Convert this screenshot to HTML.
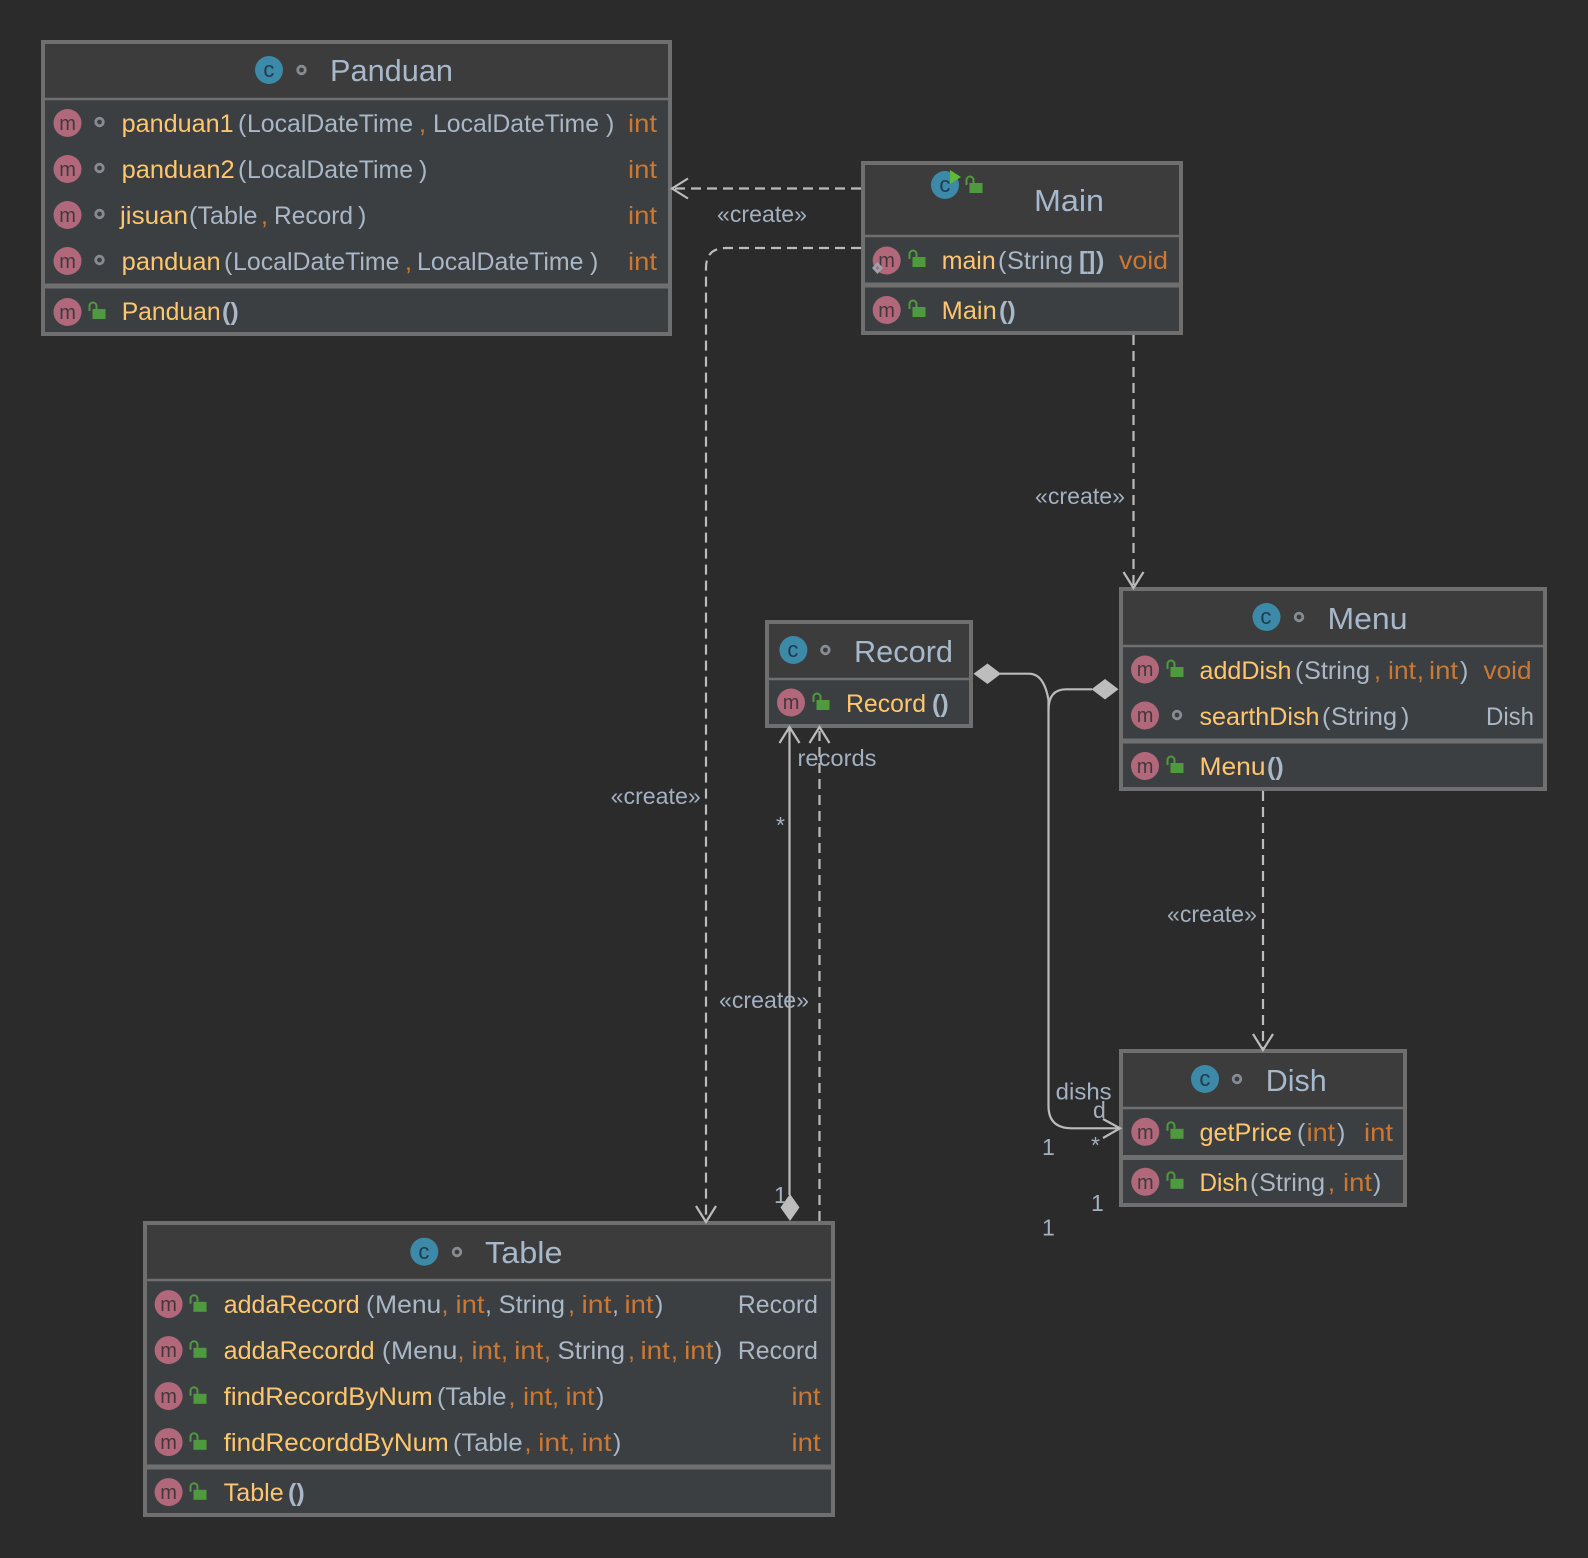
<!DOCTYPE html>
<html><head><meta charset="utf-8"><title>Class diagram</title>
<style>
html,body{margin:0;padding:0;background:#2b2b2b}
svg{display:block}
text{font-family:"Liberation Sans","DejaVu Sans",sans-serif;font-size:25px;white-space:pre}
.y{fill:#ffc66d}.g{fill:#a9b7c6}.o{fill:#cc7832}
.b{font-weight:bold}
.h{font-size:31px;fill:#a6b8cc}
.l{font-size:23px;fill:#a3b0c0}
.m{font-size:20px;fill:#45383c;transform:translateX(-0.8px)}
.c{font-size:22px;fill:#1f3b4d;transform:translateX(-0.6px)}
.box{stroke:#6f6f6f;stroke-width:4}
.head{fill:#3c3c3c}.body{fill:#3c3f41}
.sep{stroke:#6f6f6f;stroke-width:2.5}
.sep2{stroke:#6f6f6f;stroke-width:5}
.line{fill:none;stroke:#bbbbbb;stroke-width:2.2}
.dash{stroke-dasharray:10 6}
.dia{fill:#bdbdbd}
</style></head><body>
<svg width="1588" height="1558" viewBox="0 0 1588 1558" xmlns="http://www.w3.org/2000/svg">
<defs>
<g id="lock"><rect x="-4.500" y="-3" width="13" height="10" fill="#4f9a3f"/><path d="M-7.500,-1V-6a3.500,3.500 0 0 1 7,0V-3" fill="none" stroke="#4f9a3f" stroke-width="2"/></g>
<g id="dot"><circle r="3.800" fill="none" stroke="#868c91" stroke-width="2.800"/></g>
</defs>
<rect width="1588" height="1558" fill="#2b2b2b"/>

<!-- Panduan -->
<rect class="box body" x="43" y="42" width="627" height="292"/>
<rect class="head" x="45" y="44" width="623" height="54"/>
<line class="sep" x1="43" y1="99" x2="670" y2="99"/>
<line class="sep2" x1="43" y1="286" x2="670" y2="286"/>
<circle cx="269" cy="70" r="14" fill="#3d8aa8"/><text class="c" x="264" y="77">c</text>
<use href="#dot" x="301.500" y="70"/>
<text class="h" x="330" y="81" textLength="123" lengthAdjust="spacingAndGlyphs">Panduan</text>
<circle cx="67.500" cy="123" r="14" fill="#b0687a"/><text class="m" x="60" y="130">m</text><use href="#dot" x="99.500" y="122"/>
<text class="y" x="121.700" y="132" textLength="112" lengthAdjust="spacingAndGlyphs">panduan1</text><text class="g" x="238" y="132">(</text><text class="g" x="247" y="132" textLength="166" lengthAdjust="spacingAndGlyphs">LocalDateTime</text><text class="o" x="419" y="132">,</text><text class="g" x="433" y="132" textLength="166" lengthAdjust="spacingAndGlyphs">LocalDateTime</text><text class="g" x="606" y="132">)</text><text class="o" x="628" y="132" textLength="29" lengthAdjust="spacingAndGlyphs">int</text>
<circle cx="67.500" cy="169" r="14" fill="#b0687a"/><text class="m" x="60" y="176">m</text><use href="#dot" x="99.500" y="168"/>
<text class="y" x="121.700" y="178" textLength="113" lengthAdjust="spacingAndGlyphs">panduan2</text><text class="g" x="238" y="178">(</text><text class="g" x="247" y="178" textLength="166" lengthAdjust="spacingAndGlyphs">LocalDateTime</text><text class="g" x="419" y="178">)</text><text class="o" x="628" y="178" textLength="29" lengthAdjust="spacingAndGlyphs">int</text>
<circle cx="67.500" cy="215" r="14" fill="#b0687a"/><text class="m" x="60" y="222">m</text><use href="#dot" x="99.500" y="214"/>
<text class="y" x="120" y="224" textLength="68" lengthAdjust="spacingAndGlyphs">jisuan</text><text class="g" x="189" y="224">(</text><text class="g" x="197.500" y="224" textLength="60" lengthAdjust="spacingAndGlyphs">Table</text><text class="o" x="261" y="224">,</text><text class="g" x="274" y="224" textLength="79" lengthAdjust="spacingAndGlyphs">Record</text><text class="g" x="358" y="224">)</text><text class="o" x="628" y="224" textLength="29" lengthAdjust="spacingAndGlyphs">int</text>
<circle cx="67.500" cy="261" r="14" fill="#b0687a"/><text class="m" x="60" y="268">m</text><use href="#dot" x="99.500" y="260"/>
<text class="y" x="121.700" y="270" textLength="99" lengthAdjust="spacingAndGlyphs">panduan</text><text class="g" x="224" y="270">(</text><text class="g" x="233" y="270" textLength="166.500" lengthAdjust="spacingAndGlyphs">LocalDateTime</text><text class="o" x="405" y="270">,</text><text class="g" x="417" y="270" textLength="166.500" lengthAdjust="spacingAndGlyphs">LocalDateTime</text><text class="g" x="590" y="270">)</text><text class="o" x="628" y="270" textLength="29" lengthAdjust="spacingAndGlyphs">int</text>
<circle cx="67.500" cy="312" r="14" fill="#b0687a"/><text class="m" x="60" y="319">m</text><use href="#lock" x="97" y="312"/>
<text class="y" x="121.700" y="320" textLength="99" lengthAdjust="spacingAndGlyphs">Panduan</text><text class="g b" x="222" y="320">()</text>

<!-- Main -->
<rect class="box body" x="863" y="163" width="318" height="170"/>
<rect class="head" x="865" y="165" width="314" height="70"/>
<line class="sep" x1="863" y1="236" x2="1181" y2="236"/>
<line class="sep2" x1="863" y1="285" x2="1181" y2="285"/>
<circle cx="945" cy="185" r="14" fill="#3d8aa8"/><text class="c" x="940" y="192">c</text>
<polygon points="950,170 961,177 950,184" fill="#5fb83a"/>
<use href="#lock" x="974" y="186"/>
<text class="h" x="1034" y="211" textLength="70" lengthAdjust="spacingAndGlyphs">Main</text>
<circle cx="886.700" cy="260.500" r="14" fill="#b0687a"/><text class="m" x="879" y="267">m</text>
<polygon points="877.500,262 883,268 877.500,274 872,268" fill="#9aa4ae"/><polygon points="877.500,266 879.500,268 877.500,270 875.500,268" fill="#b0687a"/>
<use href="#lock" x="917" y="260"/>
<text class="y" x="941.700" y="269" textLength="54" lengthAdjust="spacingAndGlyphs">main</text><text class="g" x="998" y="269">(</text><text class="g" x="1007" y="269" textLength="66" lengthAdjust="spacingAndGlyphs">String</text><text class="g b" x="1079" y="269">[</text><text class="g b" x="1087" y="269">]</text><text class="g b" x="1096" y="269">)</text><text class="o" x="1119" y="269" textLength="49" lengthAdjust="spacingAndGlyphs">void</text>
<circle cx="886.700" cy="310" r="14" fill="#b0687a"/><text class="m" x="879" y="317">m</text><use href="#lock" x="917" y="310"/>
<text class="y" x="941.700" y="319" textLength="55" lengthAdjust="spacingAndGlyphs">Main</text><text class="g b" x="999" y="319">()</text>

<!-- Record -->
<rect class="box body" x="767" y="622" width="204" height="104"/>
<rect class="head" x="769" y="624" width="200" height="53"/>
<line class="sep" x1="767" y1="679" x2="971" y2="679"/>
<circle cx="793.400" cy="650" r="14" fill="#3d8aa8"/><text class="c" x="788" y="657">c</text>
<use href="#dot" x="825.400" y="650"/>
<text class="h" x="854" y="662" textLength="99" lengthAdjust="spacingAndGlyphs">Record</text>
<circle cx="791" cy="702.500" r="14" fill="#b0687a"/><text class="m" x="783.500" y="709">m</text><use href="#lock" x="821" y="703"/>
<text class="y" x="846" y="712" textLength="80" lengthAdjust="spacingAndGlyphs">Record</text><text class="g b" x="932" y="712">()</text>

<!-- Menu -->
<rect class="box body" x="1121" y="589" width="424" height="200"/>
<rect class="head" x="1123" y="591" width="420" height="54"/>
<line class="sep" x1="1121" y1="646" x2="1545" y2="646"/>
<line class="sep2" x1="1121" y1="741" x2="1545" y2="741"/>
<circle cx="1266.500" cy="617" r="14" fill="#3d8aa8"/><text class="c" x="1261" y="624">c</text>
<use href="#dot" x="1299" y="617"/>
<text class="h" x="1327.500" y="629" textLength="80" lengthAdjust="spacingAndGlyphs">Menu</text>
<circle cx="1145" cy="669.500" r="14" fill="#b0687a"/><text class="m" x="1137.500" y="676">m</text><use href="#lock" x="1175" y="670"/>
<text class="y" x="1199.500" y="679" textLength="92" lengthAdjust="spacingAndGlyphs">addDish</text><text class="g" x="1295" y="679">(</text><text class="g" x="1304" y="679" textLength="66" lengthAdjust="spacingAndGlyphs">String</text><text class="o" x="1374" y="679">,</text><text class="o" x="1388" y="679" textLength="28" lengthAdjust="spacingAndGlyphs">int</text><text class="o" x="1417" y="679">,</text><text class="o" x="1429" y="679" textLength="29" lengthAdjust="spacingAndGlyphs">int</text><text class="g" x="1460" y="679">)</text><text class="o" x="1483.500" y="679" textLength="48" lengthAdjust="spacingAndGlyphs">void</text>
<circle cx="1145" cy="715.500" r="14" fill="#b0687a"/><text class="m" x="1137.500" y="722">m</text><use href="#dot" x="1177" y="715"/>
<text class="y" x="1199.500" y="725" textLength="120" lengthAdjust="spacingAndGlyphs">searthDish</text><text class="g" x="1322" y="725">(</text><text class="g" x="1331" y="725" textLength="66" lengthAdjust="spacingAndGlyphs">String</text><text class="g" x="1401" y="725">)</text><text class="g" x="1486" y="725" textLength="48" lengthAdjust="spacingAndGlyphs">Dish</text>
<circle cx="1145" cy="766" r="14" fill="#b0687a"/><text class="m" x="1137.500" y="773">m</text><use href="#lock" x="1175" y="766"/>
<text class="y" x="1199.500" y="775" textLength="66" lengthAdjust="spacingAndGlyphs">Menu</text><text class="g b" x="1267" y="775">()</text>

<!-- Dish -->
<rect class="box body" x="1121" y="1051" width="284" height="154"/>
<rect class="head" x="1123" y="1053" width="280" height="53"/>
<line class="sep" x1="1121" y1="1108" x2="1405" y2="1108"/>
<line class="sep2" x1="1121" y1="1157.500" x2="1405" y2="1157.500"/>
<circle cx="1205" cy="1079" r="14" fill="#3d8aa8"/><text class="c" x="1200" y="1086">c</text>
<use href="#dot" x="1237" y="1079"/>
<text class="h" x="1265.700" y="1091" textLength="61" lengthAdjust="spacingAndGlyphs">Dish</text>
<g transform="translate(0,0.800)">
<circle cx="1145.300" cy="1131" r="14" fill="#b0687a"/><text class="m" x="1137.800" y="1138">m</text><use href="#lock" x="1175" y="1131"/>
<text class="y" x="1199.500" y="1140" textLength="92.500" lengthAdjust="spacingAndGlyphs">getPrice</text><text class="g" x="1297" y="1140">(</text><text class="o" x="1306.700" y="1140" textLength="28.500" lengthAdjust="spacingAndGlyphs">int</text><text class="g" x="1337" y="1140">)</text><text class="o" x="1364" y="1140" textLength="29" lengthAdjust="spacingAndGlyphs">int</text>
<circle cx="1145.300" cy="1181" r="14" fill="#b0687a"/><text class="m" x="1137.800" y="1188">m</text><use href="#lock" x="1175" y="1181"/>
<text class="y" x="1199.500" y="1190" textLength="48.500" lengthAdjust="spacingAndGlyphs">Dish</text><text class="g" x="1250" y="1190">(</text><text class="g" x="1259" y="1190" textLength="66" lengthAdjust="spacingAndGlyphs">String</text><text class="o" x="1328" y="1190">,</text><text class="o" x="1343" y="1190" textLength="29" lengthAdjust="spacingAndGlyphs">int</text><text class="g" x="1373" y="1190">)</text>
</g>

<!-- Table -->
<rect class="box body" x="145" y="1223" width="688" height="292"/>
<rect class="head" x="147" y="1225" width="684" height="54"/>
<line class="sep" x1="145" y1="1280" x2="833" y2="1280"/>
<line class="sep2" x1="145" y1="1467" x2="833" y2="1467"/>
<circle cx="424.300" cy="1251.700" r="14" fill="#3d8aa8"/><text class="c" x="419" y="1259">c</text>
<use href="#dot" x="457" y="1252"/>
<text class="h" x="485" y="1263" textLength="77.500" lengthAdjust="spacingAndGlyphs">Table</text>
<g transform="translate(0,0.800)">
<circle cx="168.600" cy="1303.300" r="14" fill="#b0687a"/><text class="m" x="161" y="1310">m</text><use href="#lock" x="198" y="1304"/>
<text class="y" x="223.700" y="1312" textLength="136" lengthAdjust="spacingAndGlyphs">addaRecord</text><text class="g" x="366" y="1312">(</text><text class="g" x="375" y="1312" textLength="66.300" lengthAdjust="spacingAndGlyphs">Menu</text><text class="o" x="441.500" y="1312">,</text><text class="o" x="455.500" y="1312" textLength="29" lengthAdjust="spacingAndGlyphs">int</text><text class="g" x="485" y="1312">,</text><text class="g" x="498.700" y="1312" textLength="66.300" lengthAdjust="spacingAndGlyphs">String</text><text class="o" x="568" y="1312">,</text><text class="o" x="581.500" y="1312" textLength="30" lengthAdjust="spacingAndGlyphs">int</text><text class="g" x="612" y="1312">,</text><text class="o" x="624.500" y="1312" textLength="29" lengthAdjust="spacingAndGlyphs">int</text><text class="g" x="655" y="1312">)</text><text class="g" x="737.900" y="1312" textLength="80" lengthAdjust="spacingAndGlyphs">Record</text>
<circle cx="168.600" cy="1349.300" r="14" fill="#b0687a"/><text class="m" x="161" y="1356">m</text><use href="#lock" x="198" y="1350"/>
<text class="y" x="223.700" y="1358" textLength="151" lengthAdjust="spacingAndGlyphs">addaRecordd</text><text class="g" x="382" y="1358">(</text><text class="g" x="391" y="1358" textLength="66.400" lengthAdjust="spacingAndGlyphs">Menu</text><text class="o" x="457.500" y="1358">,</text><text class="o" x="471.500" y="1358" textLength="29" lengthAdjust="spacingAndGlyphs">int</text><text class="o" x="501" y="1358">,</text><text class="o" x="514.300" y="1358" textLength="29" lengthAdjust="spacingAndGlyphs">int</text><text class="o" x="544" y="1358">,</text><text class="g" x="557.500" y="1358" textLength="67.500" lengthAdjust="spacingAndGlyphs">String</text><text class="o" x="628" y="1358">,</text><text class="o" x="640.500" y="1358" textLength="29.400" lengthAdjust="spacingAndGlyphs">int</text><text class="o" x="671" y="1358">,</text><text class="o" x="684.100" y="1358" textLength="29.400" lengthAdjust="spacingAndGlyphs">int</text><text class="g" x="714" y="1358">)</text><text class="g" x="737.900" y="1358" textLength="80" lengthAdjust="spacingAndGlyphs">Record</text>
<circle cx="168.600" cy="1395.300" r="14" fill="#b0687a"/><text class="m" x="161" y="1402">m</text><use href="#lock" x="198" y="1396"/>
<text class="y" x="223.700" y="1404" textLength="209" lengthAdjust="spacingAndGlyphs">findRecordByNum</text><text class="g" x="437" y="1404">(</text><text class="g" x="445.300" y="1404" textLength="61.200" lengthAdjust="spacingAndGlyphs">Table</text><text class="o" x="508.500" y="1404">,</text><text class="o" x="523" y="1404" textLength="29" lengthAdjust="spacingAndGlyphs">int</text><text class="o" x="552" y="1404">,</text><text class="o" x="565.500" y="1404" textLength="29" lengthAdjust="spacingAndGlyphs">int</text><text class="g" x="596" y="1404">)</text><text class="o" x="791.500" y="1404" textLength="29" lengthAdjust="spacingAndGlyphs">int</text>
<circle cx="168.600" cy="1441.300" r="14" fill="#b0687a"/><text class="m" x="161" y="1448">m</text><use href="#lock" x="198" y="1442"/>
<text class="y" x="223.700" y="1450" textLength="225" lengthAdjust="spacingAndGlyphs">findRecorddByNum</text><text class="g" x="453" y="1450">(</text><text class="g" x="461.400" y="1450" textLength="61.200" lengthAdjust="spacingAndGlyphs">Table</text><text class="o" x="524.500" y="1450">,</text><text class="o" x="538.100" y="1450" textLength="30" lengthAdjust="spacingAndGlyphs">int</text><text class="o" x="568" y="1450">,</text><text class="o" x="581.500" y="1450" textLength="30" lengthAdjust="spacingAndGlyphs">int</text><text class="g" x="613" y="1450">)</text><text class="o" x="791.500" y="1450" textLength="29" lengthAdjust="spacingAndGlyphs">int</text>
<circle cx="168.600" cy="1491.300" r="14" fill="#b0687a"/><text class="m" x="161" y="1498">m</text><use href="#lock" x="198" y="1492"/>
<text class="y" x="223.700" y="1500" textLength="60" lengthAdjust="spacingAndGlyphs">Table</text><text class="g b" x="288" y="1500">()</text>
</g>

<!-- Connectors -->
<path class="line dash" d="M861,188.500H674"/>
<path class="line" d="M688,178.500L672,188.500L688,198.500"/>
<path class="line dash" d="M861,248H726Q706,248 706,268V1220"/>
<path class="line" d="M696,1206L706,1222L716,1206"/>
<path class="line dash" d="M1133.500,335V586"/>
<path class="line" d="M1123.500,572L1133.500,588L1143.500,572"/>
<path class="line dash" d="M1263,791V1048"/>
<path class="line" d="M1253,1034L1263,1050L1273,1034"/>
<path class="line" d="M789.500,1195V729"/>
<path class="line" d="M779.500,743L789.500,727L799.500,743"/>
<polygon class="dia" points="790,1194 799.500,1207.500 790,1221 780.500,1207.500"/>
<path class="line dash" d="M819.500,1221V729"/>
<path class="line" d="M809.500,743L819.500,727L829.500,743"/>
<path class="line" d="M1000,673.700H1029Q1044,673.700 1048.500,700V1106Q1048.500,1128.300 1072,1128.300H1119"/>
<path class="line" d="M1092,689.300H1066Q1048.500,689.300 1048.500,710"/>
<path class="line" d="M1103,1119L1120,1128.300L1103,1138"/>
<polygon class="dia" points="973.500,673.700 987.500,663.500 1001,673.700 987.500,684"/>
<polygon class="dia" points="1091.500,689.300 1105,679 1118.500,689.300 1105,699.500"/>

<!-- Labels -->
<text class="l" x="717" y="222" textLength="90" lengthAdjust="spacingAndGlyphs">«create»</text>
<text class="l" x="1035" y="504" textLength="90" lengthAdjust="spacingAndGlyphs">«create»</text>
<text class="l" x="610.700" y="804" textLength="90" lengthAdjust="spacingAndGlyphs">«create»</text>
<text class="l" x="719" y="1008" textLength="90" lengthAdjust="spacingAndGlyphs">«create»</text>
<text class="l" x="1167" y="922" textLength="90" lengthAdjust="spacingAndGlyphs">«create»</text>
<text class="l" x="797.500" y="766" textLength="79" lengthAdjust="spacingAndGlyphs">records</text>
<text class="l" x="776" y="833">*</text>
<text class="l" x="774" y="1203">1</text>
<text class="l" x="1055.700" y="1099.500" textLength="56" lengthAdjust="spacingAndGlyphs">dishs</text>
<text class="l" x="1093" y="1118">d</text>
<text class="l" x="1042" y="1155">1</text>
<text class="l" x="1091" y="1153">*</text>
<text class="l" x="1091" y="1211">1</text>
<text class="l" x="1042" y="1235.500">1</text>
</svg>
</body></html>
